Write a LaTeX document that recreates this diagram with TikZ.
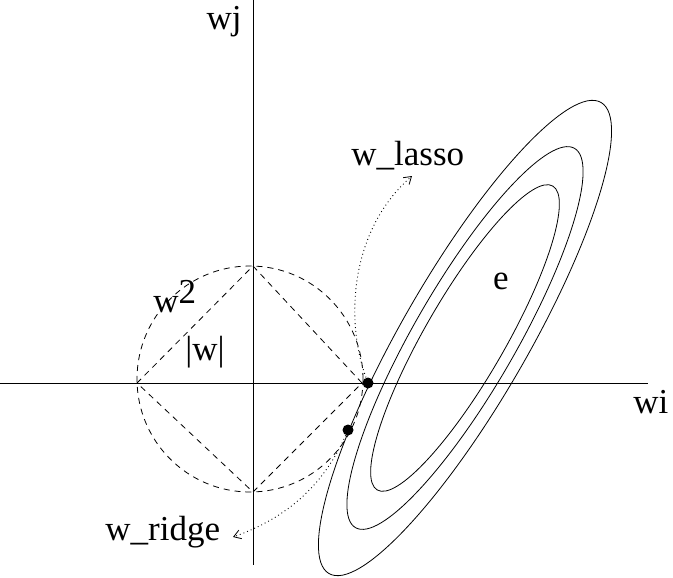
\documentclass[tikz,border=0pt]{standalone}
\usepackage{fontspec}
\setmainfont{Liberation Serif}
\usetikzlibrary{arrows.meta}

\tikzset{
    lbl/.style={inner sep=0pt, font=\fontsize{35}{40}\selectfont},
    sol/.style={circle, fill=black, inner sep=0pt, minimum size=11pt},
    path-dash/.style={line width=0.8pt, dash pattern=on 6pt off 5pt},
    path-dot/.style={line width=0.9pt, dash pattern=on 0.9pt off 3pt, -{Straight Barb[length=7pt, width=9pt, line width=0.8pt]}}
}

\begin{document}
\begin{tikzpicture}[x=1pt, y=-1pt, line width=0.8pt]
    \useasboundingbox (0,0) rectangle (673,578);

    % Draw Axes
    \draw (0,383) -- (648,383);
    \draw (253,0) -- (253,565);
    \node[lbl, anchor=base east] (wj) at (242,30) {wj};
    \node[lbl, anchor=base west] (wi) at (633,413) {wi};

    % Constraint regions
    \draw[path-dash] (250,379) circle (113pt);
    \draw[path-dash] (253,266) -- (362,383) -- (253,492) -- (137,383) -- cycle;
    \node[lbl, anchor=base west] (sq) at (153,312) {w\raisebox{9pt}{2}};
    \node[lbl, anchor=base west] (abs) at (185,360) {|w|};

    % Error contours
    \coordinate (ctr) at (465,338);
    \foreach \a/\b in {272/63, 219/51, 175.5/40}
        \draw[rotate around={60:(ctr)}] (ctr) ellipse [x radius=\a pt, y radius=\b pt];
    \node[lbl, anchor=base] (err) at (501,289) {e};

    % Solutions
    \node[sol] (lasso) at (368,383) {};
    \node[sol] (ridge) at (348,430) {};
    \coordinate (lasso-tip) at (412,176);
    \coordinate (ridge-tip) at (233,537);
    \node[lbl, anchor=base west] (lasso-lbl) at (351,165) {w\_lasso};
    \node[lbl, anchor=base west] (ridge-lbl) at (105,540) {w\_ridge};
    \draw[path-dot] (lasso) .. controls (345,320) and (350,230) .. (lasso-tip);
    \draw[path-dot] (ridge) .. controls (325,482) and (290,517) .. (ridge-tip);
\end{tikzpicture}
\end{document}
